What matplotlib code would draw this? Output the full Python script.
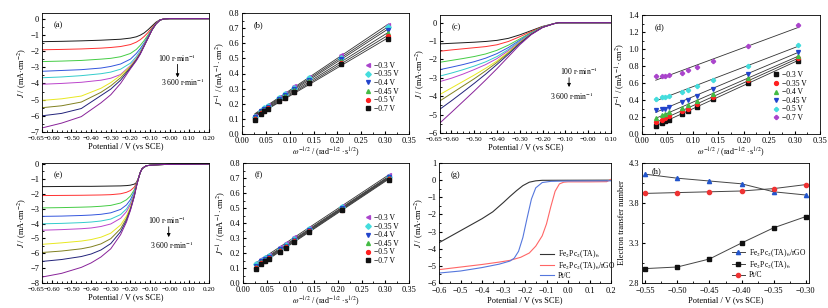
import numpy as np
import matplotlib
matplotlib.use("Agg")
import matplotlib.pyplot as plt
from matplotlib.ticker import AutoMinorLocator
from matplotlib.transforms import ScaledTranslation

plt.rcParams['font.family'] = ['Liberation Serif', 'DejaVu Serif']
plt.rcParams['mathtext.fontset'] = 'stix'
plt.rcParams['font.size'] = 6
plt.rcParams['axes.linewidth'] = 0.6
plt.rcParams['xtick.direction'] = 'in'
plt.rcParams['ytick.direction'] = 'in'
plt.rcParams['xtick.major.size'] = 2.5
plt.rcParams['ytick.major.size'] = 2.5
plt.rcParams['xtick.minor.size'] = 1.3
plt.rcParams['ytick.minor.size'] = 1.3
plt.rcParams['xtick.major.pad'] = 3
plt.rcParams['ytick.major.pad'] = 2

# -----------------------------------------------
# Data
# -----------------------------------------------
rpm_colors = ['#1a1a1a', '#ff3030', '#44cc44', '#3355dd', '#33cccc',
              '#bb44cc', '#e8e820', '#808020', '#22227a', '#882299']

# (a) LSV, 100 -> 3600 rpm
E_a = [-0.65, -0.55, -0.45, -0.35, -0.30, -0.25, -0.20, -0.17, -0.15, -0.13, -0.11, -0.09, -0.07, -0.05, -0.03, 0.00, 0.20]
J_a = [
    [-1.42, -1.40, -1.37, -1.33, -1.30, -1.27, -1.20, -1.12, -1.02, -0.88, -0.68, -0.45, -0.22, -0.07, -0.02, 0, 0],
    [-1.92, -1.90, -1.87, -1.82, -1.78, -1.72, -1.60, -1.45, -1.30, -1.10, -0.85, -0.55, -0.27, -0.08, -0.02, 0, 0],
    [-2.65, -2.62, -2.58, -2.50, -2.45, -2.35, -2.15, -1.90, -1.65, -1.35, -1.00, -0.62, -0.30, -0.09, -0.02, 0, 0],
    [-3.25, -3.20, -3.15, -3.05, -2.95, -2.80, -2.50, -2.15, -1.85, -1.50, -1.08, -0.65, -0.31, -0.09, -0.02, 0, 0],
    [-3.65, -3.60, -3.52, -3.40, -3.30, -3.12, -2.75, -2.35, -1.98, -1.58, -1.12, -0.67, -0.32, -0.09, -0.02, 0, 0],
    [-4.05, -4.00, -3.93, -3.80, -3.68, -3.45, -2.90, -2.45, -2.07, -1.62, -1.15, -0.68, -0.32, -0.09, -0.02, 0, 0],
    [-5.05, -4.95, -4.78, -4.30, -3.95, -3.50, -2.95, -2.50, -2.10, -1.64, -1.17, -0.69, -0.32, -0.09, -0.02, 0, 0],
    [-5.50, -5.38, -5.15, -4.55, -4.15, -3.65, -3.00, -2.53, -2.14, -1.66, -1.18, -0.69, -0.33, -0.09, -0.02, 0, 0],
    [-6.00, -5.85, -5.55, -4.75, -4.35, -3.80, -3.05, -2.56, -2.17, -1.68, -1.19, -0.70, -0.33, -0.09, -0.02, 0, 0],
    [-6.75, -6.45, -6.05, -5.20, -4.70, -4.00, -3.10, -2.60, -2.20, -1.70, -1.20, -0.70, -0.33, -0.09, -0.02, 0, 0],
]

# (c) LSV
E_c = [-0.65, -0.60, -0.55, -0.50, -0.45, -0.40, -0.35, -0.30, -0.25, -0.20, -0.15, -0.13, 0.10]
J_c = [
    [-1.15, -1.12, -1.09, -1.06, -1.02, -0.96, -0.85, -0.66, -0.43, -0.20, -0.05, 0, 0],
    [-1.55, -1.48, -1.42, -1.36, -1.30, -1.20, -1.02, -0.76, -0.48, -0.22, -0.05, 0, 0],
    [-2.15, -2.05, -1.95, -1.84, -1.70, -1.50, -1.22, -0.88, -0.53, -0.23, -0.05, 0, 0],
    [-2.55, -2.42, -2.28, -2.12, -1.93, -1.68, -1.35, -0.95, -0.56, -0.24, -0.05, 0, 0],
    [-2.90, -2.74, -2.56, -2.36, -2.13, -1.84, -1.45, -1.00, -0.58, -0.24, -0.05, 0, 0],
    [-3.20, -3.02, -2.80, -2.55, -2.28, -1.95, -1.52, -1.04, -0.60, -0.25, -0.05, 0, 0],
    [-3.90, -3.55, -3.20, -2.85, -2.48, -2.08, -1.60, -1.08, -0.61, -0.25, -0.05, 0, 0],
    [-4.25, -3.85, -3.45, -3.05, -2.62, -2.16, -1.65, -1.10, -0.62, -0.25, -0.05, 0, 0],
    [-4.70, -4.25, -3.78, -3.30, -2.80, -2.27, -1.72, -1.14, -0.63, -0.25, -0.05, 0, 0],
    [-5.45, -4.88, -4.30, -3.72, -3.12, -2.50, -1.85, -1.20, -0.65, -0.26, -0.05, 0, 0],
]

# (e) LSV
E_e = [-0.65, -0.55, -0.45, -0.40, -0.35, -0.30, -0.25, -0.22, -0.20, -0.18, -0.17, -0.16, -0.15, -0.14, -0.12, -0.10, -0.05, 0.00, 0.20]
J_e = [
    [-1.52, -1.51, -1.50, -1.50, -1.49, -1.48, -1.47, -1.45, -1.42, -1.35, -1.25, -0.97, -0.57, -0.30, -0.12, -0.08, -0.04, -0.02, 0],
    [-2.12, -2.11, -2.10, -2.09, -2.08, -2.06, -2.00, -1.90, -1.78, -1.55, -1.30, -0.98, -0.57, -0.30, -0.12, -0.08, -0.04, -0.02, 0],
    [-2.95, -2.93, -2.90, -2.88, -2.84, -2.78, -2.62, -2.40, -2.15, -1.72, -1.38, -0.99, -0.57, -0.30, -0.12, -0.08, -0.04, -0.02, 0],
    [-3.52, -3.50, -3.46, -3.43, -3.38, -3.28, -3.05, -2.75, -2.40, -1.85, -1.42, -1.00, -0.57, -0.30, -0.12, -0.08, -0.04, -0.02, 0],
    [-4.02, -3.99, -3.94, -3.90, -3.83, -3.70, -3.40, -3.02, -2.60, -1.95, -1.45, -1.00, -0.57, -0.30, -0.12, -0.08, -0.04, -0.02, 0],
    [-4.45, -4.41, -4.35, -4.30, -4.20, -4.03, -3.65, -3.20, -2.72, -2.00, -1.47, -1.01, -0.57, -0.30, -0.12, -0.08, -0.04, -0.02, 0],
    [-5.40, -5.30, -5.18, -5.08, -4.92, -4.65, -4.10, -3.50, -2.90, -2.08, -1.50, -1.01, -0.57, -0.30, -0.12, -0.08, -0.04, -0.02, 0],
    [-5.95, -5.85, -5.70, -5.57, -5.37, -5.02, -4.35, -3.65, -3.00, -2.12, -1.52, -1.02, -0.57, -0.30, -0.12, -0.08, -0.04, -0.02, 0],
    [-6.55, -6.42, -6.22, -6.05, -5.78, -5.35, -4.55, -3.78, -3.07, -2.15, -1.53, -1.02, -0.57, -0.30, -0.12, -0.08, -0.04, -0.02, 0],
    [-7.60, -7.35, -6.95, -6.65, -6.25, -5.70, -4.75, -3.90, -3.12, -2.18, -1.55, -1.03, -0.57, -0.30, -0.12, -0.08, -0.04, -0.02, 0],
]

# K-L plots (b), (d), (f); index 0 is -0.3 V
kl_x = [0.027, 0.039, 0.046, 0.054, 0.078, 0.090, 0.108, 0.140, 0.208, 0.307]
kl_labels = ['\u22120.3 V', '\u22120.35 V', '\u22120.4 V', '\u22120.45 V', '\u22120.5 V', '\u22120.7 V']

b_y = [
    [0.120, 0.160, 0.175, 0.190, 0.245, 0.270, 0.315, 0.380, 0.520, 0.720],
    [0.115, 0.155, 0.170, 0.185, 0.240, 0.265, 0.305, 0.370, 0.505, 0.705],
    [0.110, 0.150, 0.165, 0.180, 0.230, 0.260, 0.295, 0.360, 0.495, 0.690],
    [0.105, 0.145, 0.160, 0.175, 0.225, 0.250, 0.290, 0.350, 0.480, 0.665],
    [0.100, 0.140, 0.155, 0.170, 0.220, 0.240, 0.280, 0.340, 0.470, 0.645],
    [0.095, 0.135, 0.150, 0.165, 0.215, 0.235, 0.275, 0.335, 0.460, 0.625],
]
d_y = [
    [0.09, 0.13, 0.15, 0.17, 0.24, 0.27, 0.32, 0.41, 0.60, 0.86],
    [0.14, 0.17, 0.19, 0.21, 0.27, 0.30, 0.35, 0.44, 0.63, 0.89],
    [0.19, 0.22, 0.24, 0.26, 0.31, 0.34, 0.39, 0.47, 0.66, 0.92],
    [0.28, 0.29, 0.30, 0.32, 0.38, 0.40, 0.45, 0.53, 0.71, 0.97],
    [0.41, 0.43, 0.44, 0.45, 0.50, 0.52, 0.56, 0.63, 0.80, 1.05],
    [0.68, 0.68, 0.68, 0.69, 0.72, 0.75, 0.79, 0.86, 1.03, 1.28],
]
f_y = [
    [0.135, 0.160, 0.175, 0.190, 0.240, 0.265, 0.305, 0.370, 0.515, 0.720],
    [0.125, 0.150, 0.165, 0.180, 0.230, 0.255, 0.295, 0.360, 0.505, 0.710],
    [0.115, 0.145, 0.160, 0.175, 0.225, 0.250, 0.290, 0.355, 0.500, 0.705],
    [0.110, 0.140, 0.155, 0.170, 0.220, 0.245, 0.285, 0.350, 0.495, 0.700],
    [0.100, 0.135, 0.150, 0.165, 0.215, 0.240, 0.280, 0.345, 0.490, 0.695],
    [0.095, 0.130, 0.145, 0.160, 0.210, 0.235, 0.275, 0.340, 0.485, 0.690],
]

# (g) LSV comparison
E_g_tadc = [-0.60, -0.50, -0.40, -0.35, -0.30, -0.27, -0.24, -0.21, -0.18, -0.15, -0.12, 0.20]
J_g_tadc = [-3.65, -2.95, -2.25, -1.85, -1.30, -0.95, -0.62, -0.32, -0.12, -0.04, -0.01, 0.00]
E_g_rgo = [-0.60, -0.50, -0.40, -0.32, -0.27, -0.22, -0.18, -0.15, -0.12, -0.10, -0.08, -0.06, -0.04, -0.02, 0.00, 0.10, 0.18, 0.20]
J_g_rgo = [-5.22, -5.07, -4.92, -4.78, -4.68, -4.50, -4.25, -3.85, -3.25, -2.55, -1.55, -0.65, -0.22, -0.12, -0.10, -0.10, -0.09, 0.05]
E_g_ptc = [-0.60, -0.50, -0.40, -0.32, -0.27, -0.25, -0.23, -0.21, -0.19, -0.17, -0.15, -0.12, -0.08, 0.00, 0.20]
J_g_ptc = [-5.42, -5.30, -5.10, -4.90, -4.72, -4.55, -4.15, -3.35, -2.20, -1.10, -0.45, -0.14, -0.07, -0.05, -0.04]

# (h) electron transfer number
E_h = [-0.55, -0.50, -0.45, -0.40, -0.35, -0.30]
n_rgo = [4.16, 4.11, 4.075, 4.04, 3.94, 3.90]
n_tadc = [2.98, 3.00, 3.10, 3.30, 3.49, 3.63]
n_ptc = [3.92, 3.93, 3.94, 3.95, 3.98, 4.03]

# -----------------------------------------------
# Figure layout (pixel boxes: left, right, top, bottom)
# -----------------------------------------------
W, H = 829, 308
fig = plt.figure(figsize=(W / 100, H / 100), dpi=100)


def add_ax(l, r, t, b):
    return fig.add_axes([l / W, (H - b) / H, (r - l) / W, (b - t) / H])


def shift_label(lbl, dx_px):
    lbl.set_transform(lbl.get_transform() + ScaledTranslation(dx_px / 100, 0, fig.dpi_scale_trans))


ax_a = add_ax(42, 209, 13, 132)
ax_b = add_ax(242, 409, 13, 134)
ax_c = add_ax(440, 611, 15, 133)
ax_d = add_ax(642, 820, 15, 134)
ax_e = add_ax(42, 209, 163, 283)
ax_f = add_ax(243, 409, 163, 283)
ax_g = add_ax(439, 611, 163, 283)
ax_h = add_ax(642, 809, 163, 283)

pot_label = 'Potential / V (vs SCE)'
j_label = r'$J$ / (mA$\cdot$cm$^{-2}$)'
jinv_label = r'$J^{-1}$ / (mA$^{-1}\cdot$cm$^{2}$)'
omega_label = r'$\omega^{-1/2}$ / (rad$^{-1/2}\cdot$s$^{1/2}$)'

for ax in [ax_a, ax_b, ax_c, ax_d, ax_e, ax_f, ax_g, ax_h]:
    ax.tick_params(top=False, right=False, labelsize=6)
    ax.xaxis.set_minor_locator(AutoMinorLocator(2))
    ax.yaxis.set_minor_locator(AutoMinorLocator(2))

# -----------------------------------------------
# LSV panels at different rotation rates
# -----------------------------------------------
lsv_sets = [(ax_a, E_a, J_a, '(a)', (-7, 0.35), np.arange(-7, 1, 1), (-0.65, 0.20)),
            (ax_c, E_c, J_c, '(c)', (-6, 0.42), np.arange(-6, 1, 1), (-0.65, 0.10)),
            (ax_e, E_e, J_e, '(e)', (-8, 0.07), np.arange(-8, 1, 1), (-0.65, 0.20))]
arrow_pos = {'(a)': (0.036, -2.44, 0.04, -2.65, -3.80, 0.066, -3.95),
             '(c)': (-0.040, -2.62, -0.084, -2.84, -3.65, -0.073, -4.0),
             '(e)': (-0.014, -3.76, -0.005, -4.03, -5.10, 0.010, -5.45)}

for ax, E, J, tag, ylim, yticks, xlim in lsv_sets:
    for i, curve in enumerate(J):
        ax.plot(E, curve, color=rpm_colors[i], lw=0.7)
    ax.set_xlim(xlim)
    ax.set_ylim(ylim)
    ax.set_yticks(yticks)
    xt = [xlim[0]] + list(np.round(np.arange(-0.6, xlim[1] + 0.01, 0.1), 2))
    ax.set_xticks(xt)
    ax.set_xticklabels([f"{v:.2f}".replace('-', '\u2212') for v in xt], fontsize=5.2)
    # the first two labels sit very close together, as in the original
    shift_label(ax.get_xticklabels()[0], -6)
    ax.xaxis.set_minor_locator(AutoMinorLocator(2))
    ax.set_xlabel(pot_label, labelpad=0.5)
    ax.set_ylabel(j_label, labelpad=1)
    ax.text(0.07, 0.9, tag, transform=ax.transAxes, fontsize=6, va='center')
    tx, ty, axx, ay1, ay2, bx, by = arrow_pos[tag]
    ax.text(tx, ty, r'100 r$\cdot$min$^{-1}$', fontsize=5.5, ha='center', va='center')
    ax.annotate('', xy=(axx, ay2), xytext=(axx, ay1),
                arrowprops=dict(arrowstyle='-|>', lw=0.6, color='k', mutation_scale=5))
    ax.text(bx, by, r'3 600 r$\cdot$min$^{-1}$', fontsize=5.5, ha='center', va='center')

# -----------------------------------------------
# Koutecky-Levich panels
# -----------------------------------------------
kl_style = [('s', '#111111'), ('o', '#ff2020'), ('^', '#44bb44'),
            ('v', '#2244cc'), ('D', '#44dddd'), ('<', '#aa44cc')]
# (b) and (f) use the styles in reverse order
kl_sets = [(ax_b, b_y, '(b)', True, (0, 0.8), 0.13),
           (ax_d, d_y, '(d)', False, (0, 1.4), 0.055),
           (ax_f, f_y, '(f)', True, (0, 0.8), 0.105)]

for ax, ys, tag, rev, ylim, leg_y in kl_sets:
    x = np.array(kl_x)
    for k in range(6):
        y = np.array(ys[k])
        slope, icpt = np.polyfit(x, y, 1)
        ax.plot([x[0], x[-1]], [slope * x[0] + icpt, slope * x[-1] + icpt],
                color='#333333', lw=0.6)
    for k in range(6):
        marker, col = kl_style[5 - k] if rev else kl_style[k]
        if not rev and k >= 4:
            marker = 'P'
        ax.plot(kl_x, ys[k], linestyle='none', marker=marker, ms=2.8,
                color=col, label=kl_labels[k])
    ax.set_xlim(0, 0.35)
    ax.set_ylim(ylim)
    ax.set_xticks(np.arange(0, 0.351, 0.05))
    ax.set_xticklabels([f"{v:.2f}" for v in np.arange(0, 0.351, 0.05)])
    ax.tick_params(axis='x', pad=2.5)
    ax.xaxis.set_minor_locator(AutoMinorLocator(2))
    ax.set_yticks(np.arange(ylim[0], ylim[1] + 0.01, 0.1 if ylim[1] < 1 else 0.2))
    ax.set_xlabel(omega_label, labelpad=0, fontsize=5.8)
    ax.set_ylabel(jinv_label, labelpad=1)
    ax.text(0.07, 0.9, tag, transform=ax.transAxes, fontsize=6, va='center')
    ax.legend(loc='lower left', bbox_to_anchor=(0.7, leg_y), frameon=False,
              fontsize=5.5, handlelength=1.0, handletextpad=0.3,
              labelspacing=0.08, borderpad=0.2)

# -----------------------------------------------
# (g) comparison of catalysts
# -----------------------------------------------
ax_g.plot(E_g_tadc, J_g_tadc, color='#333333', lw=0.8, label=r'Fe$_2$Pc$_2$(TA)$_6$')
ax_g.plot(E_g_rgo, J_g_rgo, color='#ff6666', lw=0.8, label=r'Fe$_2$Pc$_2$(TA)$_6$/rGO')
ax_g.plot(E_g_ptc, J_g_ptc, color='#5577dd', lw=0.8, label='Pt/C')
ax_g.set_xlim(-0.6, 0.2)
ax_g.set_ylim(-6, 1)
ax_g.set_xticks(np.round(np.arange(-0.6, 0.21, 0.1), 1))
ax_g.xaxis.set_minor_locator(AutoMinorLocator(2))
ax_g.set_yticks(np.arange(-6, 2, 1))
ax_g.set_xlabel(pot_label, labelpad=1)
ax_g.set_ylabel(j_label, labelpad=1)
ax_g.text(0.07, 0.9, '(g)', transform=ax_g.transAxes, fontsize=6, va='center')
ax_g.legend(loc='lower left', bbox_to_anchor=(0.55, -0.03), frameon=False,
            fontsize=5.5, handlelength=1.8, handletextpad=0.5, labelspacing=0.0)

# -----------------------------------------------
# (h) electron transfer number
# -----------------------------------------------
ax_h.plot(E_h, n_rgo, color='#444444', lw=0.7, marker='^', ms=3,
          mfc='#2255cc', mec='#2255cc', label=r'Fe$_2$Pc$_2$(TA)$_6$/rGO')
ax_h.plot(E_h, n_tadc, color='#444444', lw=0.7, marker='s', ms=3,
          mfc='#111111', mec='#111111', label=r'Fe$_2$Pc$_2$(TA)$_6$')
ax_h.plot(E_h, n_ptc, color='#444444', lw=0.7, marker='o', ms=3,
          mfc='#ee3333', mec='#ee3333', label='Pt/C')
ax_h.set_xlim(-0.555, -0.295)
ax_h.set_ylim(2.8, 4.3)
ax_h.set_xticks(E_h)
ax_h.set_xticklabels([f"{v:.2f}".replace('-', '\u2212') for v in E_h])
ax_h.xaxis.set_minor_locator(AutoMinorLocator(2))
ax_h.set_yticks([2.8, 3.3, 3.8, 4.3])
ax_h.yaxis.set_minor_locator(AutoMinorLocator(2))
ax_h.set_xlabel(pot_label, labelpad=1)
ax_h.set_ylabel('Electron transfer number', labelpad=2)
ax_h.text(0.06, 0.93, '(h)', transform=ax_h.transAxes, fontsize=6, va='center')
ax_h.legend(loc='lower left', bbox_to_anchor=(0.5, -0.02), frameon=False,
            fontsize=5.5, handlelength=1.8, handletextpad=0.5, labelspacing=0.05,
            borderpad=0.3)

plt.savefig('out.png', dpi=100)
